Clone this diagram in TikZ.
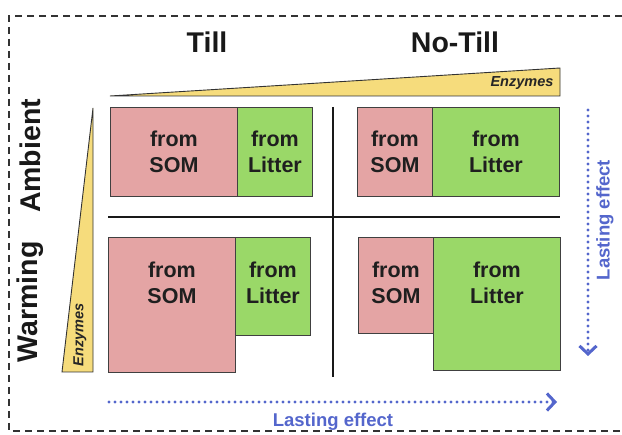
\documentclass[tikz,border=0pt]{standalone}
\usepackage{fontspec}
\setmainfont{Liberation Sans}
\usetikzlibrary{arrows.meta,calc}
\definecolor{som}{HTML}{E4A4A4}
\definecolor{lit}{HTML}{9AD868}
\definecolor{enz}{HTML}{F6DC7C}
\definecolor{blu}{HTML}{5466CC}
\begin{document}
\begin{tikzpicture}[x=1pt,y=-1pt,
  box/.style={draw=black!75, line width=0.9pt, anchor=north west, inner sep=0pt},
  lbl/.style={font=\fontsize{21.5}{26.5}\selectfont\bfseries, align=center, text=black!88},
  head/.style={font=\fontsize{28.5}{31}\selectfont\bfseries, text=black!90},
  enzt/.style={font=\fontsize{14.5}{16}\selectfont\bfseries\itshape, text=black!85},
  tri/.style={draw=black!80, line width=0.9pt, fill=enz},
  last/.style={font=\fontsize{18.5}{21}\selectfont\bfseries, text=blu},
  dotarrow/.style={blu, line width=3.1pt, line cap=round, dash pattern=on 0pt off 6pt,
     -{Straight Barb[length=8pt,width=17pt,line width=3pt]}},
  divider/.style={black!90, line width=1.2pt}]
\useasboundingbox (0,0) rectangle (622,435);
% dashed frame
\draw[black!80, line width=1.3pt, dash pattern=on 7pt off 5pt] (622,16) -- (9,16) -- (9,431) -- (622,431);
% headers
\node[head] (till) at (207,42) {Till};
\node[head] (notill) at (455,42) {No-Till};
\node[head, rotate=90] (amb) at (30,156) {Ambient};
\node[head, rotate=90] (warm) at (30,302) {Warming};
% enzyme wedges
\draw[tri] (110,96) -- (560,68) -- (560,96) -- cycle;
\node[enzt] (enzA) at (522,83) {Enzymes};
\draw[tri] (93,108) -- (62,372) -- (93,372) -- cycle;
\node[enzt, rotate=90] (enzB) at (80,335) {Enzymes};
% dividers
\coordinate (vt) at (333,107);
\coordinate (vb) at (333,377);
\coordinate (hl) at (108,217);
\coordinate (hr) at (560,217);
\draw[divider] (vt) -- (vb);
\draw[divider] (hl) -- (hr);
% top-left
\node[box, fill=som, minimum width=127pt, minimum height=89pt] (tlS) at (110,107) {};
\node[box, fill=lit, minimum width=75pt, minimum height=89pt] (tlL) at (237,107) {};
% top-right
\node[box, fill=som, minimum width=75pt, minimum height=89pt] (trS) at (357,107) {};
\node[box, fill=lit, minimum width=127pt, minimum height=89pt] (trL) at (432,107) {};
% bottom-left
\node[box, fill=som, minimum width=127pt, minimum height=135pt] (blS) at (108,237) {};
\node[box, fill=lit, minimum width=75pt, minimum height=98pt] (blL) at (235,237) {};
% bottom-right
\node[box, fill=som, minimum width=75pt, minimum height=96pt] (brS) at (358,237) {};
\node[box, fill=lit, minimum width=127pt, minimum height=133pt] (brL) at (433,237) {};
% texts
\node[lbl] (tlSt) at ($(tlS.north)+(0,45)$) {from\\SOM};
\node[lbl] (tlLt) at ($(tlL.north)+(0,45)$) {from\\Litter};
\node[lbl] (trSt) at ($(trS.north)+(0,45)$) {from\\SOM};
\node[lbl] (trLt) at ($(trL.north)+(0,45)$) {from\\Litter};
\node[lbl] (blSt) at ($(blS.north)+(0,46)$) {from\\SOM};
\node[lbl] (blLt) at ($(blL.north)+(0,46)$) {from\\Litter};
\node[lbl] (brSt) at ($(brS.north)+(0,46)$) {from\\SOM};
\node[lbl] (brLt) at ($(brL.north)+(0,46)$) {from\\Litter};
% lasting effect arrows
\coordinate (hs) at (109,402);
\coordinate (he) at (557,402);
\draw[dotarrow] (hs) -- (he);
\node[last] (lh) at (333,422) {Lasting effect};
\coordinate (vs) at (588,110);
\coordinate (ve) at (588,356);
\draw[dotarrow] (vs) -- (ve);
\node[last, rotate=90] (lv) at (605,220) {Lasting effect};
\end{tikzpicture}
\end{document}
